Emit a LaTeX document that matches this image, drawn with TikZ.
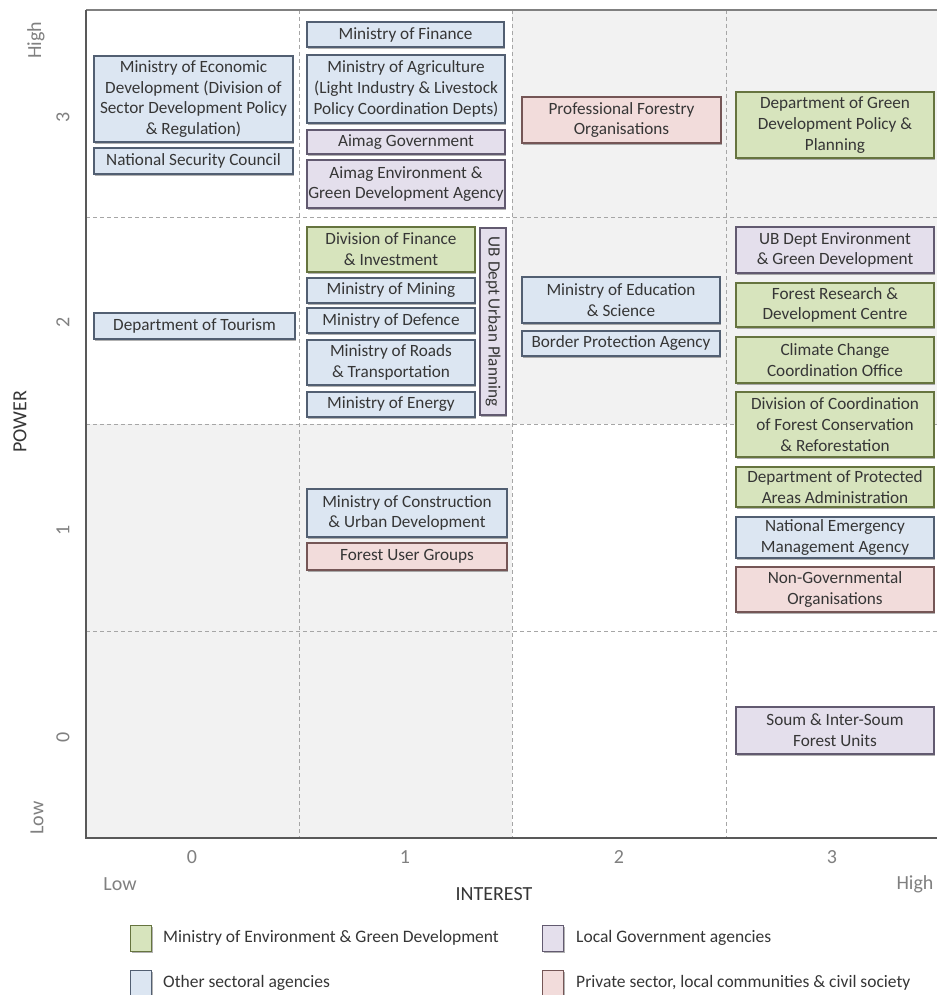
\documentclass[tikz,border=0pt]{standalone}
\usepackage{fontspec}
\setmainfont{Carlito}
\usetikzlibrary{shadows}
\definecolor{gfill}{HTML}{D7E4BD}
\definecolor{gdraw}{HTML}{66743F}
\definecolor{bfill}{HTML}{DCE6F2}
\definecolor{bdraw}{HTML}{525F72}
\definecolor{pfill}{HTML}{E4DFEC}
\definecolor{pdraw}{HTML}{625A70}
\definecolor{rfill}{HTML}{F2DCDB}
\definecolor{rdraw}{HTML}{755656}
\definecolor{txt}{HTML}{363636}
\definecolor{axisgray}{HTML}{808080}
\definecolor{bggray}{HTML}{F2F2F2}
\definecolor{gridgray}{HTML}{A6A6A6}
\definecolor{axisdark}{HTML}{595959}
\tikzset{
  box/.style={rectangle, draw, line width=1.1pt, inner sep=1pt, align=center, text=txt,
    font=\fontsize{17.2}{20.8}\selectfont,
    drop shadow={shadow xshift=1pt, shadow yshift=-1.6pt, opacity=0.3, fill=black}},
  gbox/.style={box, fill=gfill, draw=gdraw},
  bbox/.style={box, fill=bfill, draw=bdraw},
  pbox/.style={box, fill=pfill, draw=pdraw},
  rbox/.style={box, fill=rfill, draw=rdraw},
  gridline/.style={draw=gridgray, line width=0.9pt, dash pattern=on 4pt off 3pt},
  ticklab/.style={text=axisgray, font=\fontsize{20}{24}\selectfont, inner sep=0pt},
  axlab/.style={text=txt, font=\fontsize{20}{24}\selectfont, inner sep=0pt},
  legtext/.style={text=txt, font=\fontsize{17.5}{21}\selectfont, anchor=west, inner sep=0pt},
  legsq/.style={rectangle, draw, line width=1pt, inner sep=0pt, minimum width=21pt, minimum height=26pt,
    drop shadow={shadow xshift=1pt, shadow yshift=-1.5pt, opacity=0.3, fill=black}}
}
\newcommand\bx[7]{\node[#6, minimum width={#3-#2}, minimum height={#5-#4}] (#1) at ({(#2+#3)/2},{(#4+#5)/2}) {#7};}
\begin{document}
\begin{tikzpicture}[x=1pt, y=-1pt]
\useasboundingbox (0,0) rectangle (937,995);
\fill[white] (0,0) rectangle (937,995);
% quadrant backgrounds
\fill[bggray] (512,10) rectangle (937,424);
\fill[bggray] (86,424) rectangle (512,838);
% grid
\draw[gridline] (299,10) -- (299,838);
\draw[gridline] (512,10) -- (512,838);
\draw[gridline] (726,10) -- (726,838);
\draw[gridline] (86,217) -- (937,217);
\draw[gridline] (86,424) -- (937,424);
\draw[gridline] (86,631) -- (937,631);
% frame and axes
\draw[axisgray, line width=1.2pt] (86,10) -- (937,10);
\draw[axisdark, line width=1.6pt] (86,10) -- (86,838) -- (937,838);

% column 0
\bx{econ}{94}{293}{56}{142}{bbox}{Ministry of Economic\\Development (Division of\\Sector Development Policy\\\& Regulation)}
\bx{nsc}{94}{293}{148}{174}{bbox}{National Security Council}
\bx{tour}{94}{295}{313}{339}{bbox}{Department of Tourism}
% column 1
\bx{fin}{307}{504}{22}{47}{bbox}{Ministry of Finance}
\bx{agri}{307}{505}{55}{123}{bbox}{Ministry of Agriculture\\(Light Industry \& Livestock\\Policy Coordination Depts)}
\bx{aimag}{307}{505}{130}{154}{pbox}{Aimag Government}
\bx{aimagenv}{307}{505}{160}{208}{pbox}{Aimag Environment \&\\Green Development Agency}
\bx{divfin}{307}{475}{227}{272}{gbox}{Division of Finance\\\& Investment}
\bx{mining}{307}{475}{278}{303}{bbox}{Ministry of Mining}
\bx{defence}{307}{475}{308}{333}{bbox}{Ministry of Defence}
\bx{roads}{307}{475}{340}{385}{bbox}{Ministry of Roads\\\& Transportation}
\bx{energy}{307}{475}{392}{417}{bbox}{Ministry of Energy}
\node[pbox, rotate=-90, minimum width=187, minimum height=26] (ubplan) at (493,321.5) {UB Dept Urban Planning};
\bx{constr}{307}{507}{489}{537}{bbox}{Ministry of Construction\\\& Urban Development}
\bx{fug}{307}{507}{543}{570}{rbox}{Forest User Groups}
% column 2
\bx{profor}{522}{721}{97}{143}{rbox}{Professional Forestry\\Organisations}
\bx{edu}{522}{720}{277}{323}{bbox}{Ministry of Education\\\& Science}
\bx{border}{522}{720}{331}{356}{bbox}{Border Protection Agency}
% column 3
\bx{gdpp}{736}{934}{92}{158}{gbox}{Department of Green\\Development Policy \&\\Planning}
\bx{ubenv}{736}{934}{227}{273}{pbox}{UB Dept Environment\\\& Green Development}
\bx{frdc}{736}{934}{283}{327}{gbox}{Forest Research \&\\Development Centre}
\bx{ccco}{736}{934}{337}{383}{gbox}{Climate Change\\Coordination Office}
\bx{dcfc}{736}{934}{392}{457}{gbox}{Division of Coordination\\of Forest Conservation\\\& Reforestation}
\bx{dpaa}{736}{934}{467}{507}{gbox}{Department of Protected\\Areas Administration}
\bx{nema}{736}{934}{517}{558}{bbox}{National Emergency\\Management Agency}
\bx{ngo}{736}{934}{567}{612}{rbox}{Non-Governmental\\Organisations}
\bx{soum}{736}{934}{707}{754}{pbox}{Soum \& Inter-Soum\\Forest Units}

% x axis labels
\node[ticklab] (x0) at (192,857) {0};
\node[ticklab] (x1) at (405,857) {1};
\node[ticklab] (x2) at (619,857) {2};
\node[ticklab] (x3) at (832,857) {3};
\node[ticklab] (xlow) at (120,884) {Low};
\node[ticklab] (xhigh) at (915,884) {High};
\node[axlab] (interest) at (494,894) {INTEREST};
% y axis labels
\node[ticklab, rotate=90] (yhigh) at (36,40) {High};
\node[ticklab, rotate=90] (y3) at (63,117) {3};
\node[ticklab, rotate=90] (y2) at (63,322) {2};
\node[ticklab, rotate=90] (y1) at (63,530) {1};
\node[ticklab, rotate=90] (y0) at (63,737) {0};
\node[ticklab, rotate=90] (ylow) at (37,818) {Low};
\node[axlab, rotate=90] (power) at (20,422) {POWER};

% legend
\node[legsq, fill=gfill, draw=gdraw] (lg1) at (141,938) {};
\node[legtext] (lt1) at (163,938) {Ministry of Environment \& Green Development};
\node[legsq, fill=bfill, draw=bdraw] (lg2) at (141,983) {};
\node[legtext] (lt2) at (163,983) {Other sectoral agencies};
\node[legsq, fill=pfill, draw=pdraw] (lg3) at (553,938) {};
\node[legtext] (lt3) at (576,938) {Local Government agencies};
\node[legsq, fill=rfill, draw=rdraw] (lg4) at (553,983) {};
\node[legtext] (lt4) at (576,983) {Private sector, local communities \& civil society};
\end{tikzpicture}
\end{document}
